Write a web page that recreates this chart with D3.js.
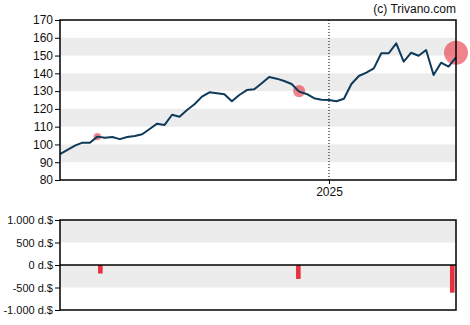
<!DOCTYPE html>
<html><head><meta charset="utf-8">
<script src="https://cdn.jsdelivr.net/npm/d3@7"></script>
<style>
html,body{margin:0;padding:0;background:#fff;}
svg{display:block;font-family:"Liberation Sans",Arial,sans-serif;}
</style></head>
<body><svg id="c" width="470" height="325"></svg>
<script>
// ---- data ----
const prices = [94.6,97.0,99.3,101,101,104.4,103.8,104.2,103,104.2,104.8,105.7,108.7,111.7,111,116.7,115.6,119.4,122.6,126.9,129.3,128.8,128.2,124.3,127.8,130.6,131,134.4,137.9,137,135.7,134,129.7,128.4,126,125.2,125,124.3,125.7,134,138.5,140.4,142.8,151.3,151.3,156.9,146.6,151.6,149.9,153.1,139.1,146,143.8,149];
const yearTickIndex = [36];
const yearTickLabels = ["2025"];
const priceTicks = [80,90,100,110,120,130,140,150,160,170];
const tradeIndex = [5,32,53];
const tradePrice = [104.4,130,151.6];
const tradeAmount = [-190,-310,-615];
const barIndex = [5.4,31.9,52.5];
const volTicks = [1000,500,0,-500,-1000];
const volTickLabels = ["1.000 d.$","500 d.$","0 d.$","-500 d.$","-1.000 d.$"];

// ---- layout ----
const svg = d3.select("#c");
const L = 60, R = 456, T1 = 20, B1 = 180, T2 = 220, B2 = 310;
const x = d3.scaleLinear().domain([0, prices.length-1]).range([L, R]);
const y = d3.scaleLinear().domain([80,170]).range([B1, T1]);
const y2 = d3.scaleLinear().domain([-1000,1000]).range([B2, T2]);
const rS = d3.scaleLinear().domain([0,615]).range([0,12]);

// bands main
const bands = [[90,100],[110,120],[130,140],[150,160]];
svg.append("g").selectAll("rect").data(bands).join("rect")
  .attr("x", L).attr("width", R-L)
  .attr("y", d=>y(d[1])).attr("height", d=>y(d[0])-y(d[1]))
  .attr("fill", "#ececec");

// year marker
svg.append("g").selectAll("line").data(yearTickIndex).join("line")
  .attr("x1", d=>x(d)).attr("x2", d=>x(d)).attr("y1", T1).attr("y2", B1)
  .attr("stroke", "#000").attr("stroke-width", 1).attr("stroke-dasharray", "1,2");

// circles
svg.append("g").selectAll("circle").data(tradeIndex).join("circle")
  .attr("cx", d=>x(d)).attr("cy", (d,i)=>y(tradePrice[i]))
  .attr("r", (d,i)=>rS(Math.abs(tradeAmount[i])))
  .attr("fill", "#e8303f").attr("fill-opacity", 0.6);

// line
svg.append("path").datum(prices)
  .attr("d", d3.line().x((d,i)=>x(i)).y(d=>y(d)))
  .attr("fill","none").attr("stroke","#0d3a5a").attr("stroke-width",2).attr("stroke-linejoin","round");

// frame
svg.append("rect").attr("x",L).attr("y",T1).attr("width",R-L).attr("height",B1-T1)
  .attr("fill","none").attr("stroke","#000").attr("stroke-width",1.5);

// y axis main
const ya = svg.append("g").attr("transform",`translate(${L},0)`)
  .call(d3.axisLeft(y).tickValues(priceTicks).tickSize(5).tickPadding(2).tickFormat(d3.format("d")));
ya.select(".domain").remove();
ya.selectAll("text").attr("font-size",12).attr("fill","#111").attr("font-family","Liberation Sans, Arial, sans-serif");
ya.selectAll("line").attr("stroke","#000");

// x axis
const xa = svg.append("g").attr("transform",`translate(0,${B1})`)
  .call(d3.axisBottom(x).tickValues(yearTickIndex).tickSize(4).tickPadding(3).tickFormat((d,i)=>yearTickLabels[i]));
xa.select(".domain").remove();
xa.selectAll("text").attr("font-size",12).attr("fill","#111").attr("font-family","Liberation Sans, Arial, sans-serif");

// copyright
svg.append("text").attr("x",R).attr("y",13).attr("text-anchor","end")
  .attr("font-size",12).attr("fill","#111").text("(c) Trivano.com");

// ---- bottom panel ----
const bands2 = [[500,1000],[-500,0]];
svg.append("g").selectAll("rect").data(bands2).join("rect")
  .attr("x", L).attr("width", R-L)
  .attr("y", d=>y2(d[1])).attr("height", d=>y2(d[0])-y2(d[1]))
  .attr("fill", "#ececec");

svg.append("g").selectAll("rect").data(tradeAmount).join("rect")
  .attr("x", (d,i)=>x(barIndex[i])-2.3).attr("width", 4.6)
  .attr("y", d=>y2(Math.max(0,d))).attr("height", d=>Math.abs(y2(d)-y2(0)))
  .attr("fill","#e8303f");

svg.append("line").attr("x1",L).attr("x2",R).attr("y1",y2(0)).attr("y2",y2(0))
  .attr("stroke","#000").attr("stroke-width",1.5);

svg.append("rect").attr("x",L).attr("y",T2).attr("width",R-L).attr("height",B2-T2)
  .attr("fill","none").attr("stroke","#000").attr("stroke-width",1.5);

const ya2 = svg.append("g").attr("transform",`translate(${L},0)`)
  .call(d3.axisLeft(y2).tickValues(volTicks).tickSize(5).tickPadding(2).tickFormat((d,i)=>volTickLabels[i]));
ya2.select(".domain").remove();
ya2.selectAll("text").attr("font-size",11).attr("fill","#111").attr("font-family","Liberation Sans, Arial, sans-serif");
ya2.selectAll("line").attr("stroke","#000");
</script></body></html>
